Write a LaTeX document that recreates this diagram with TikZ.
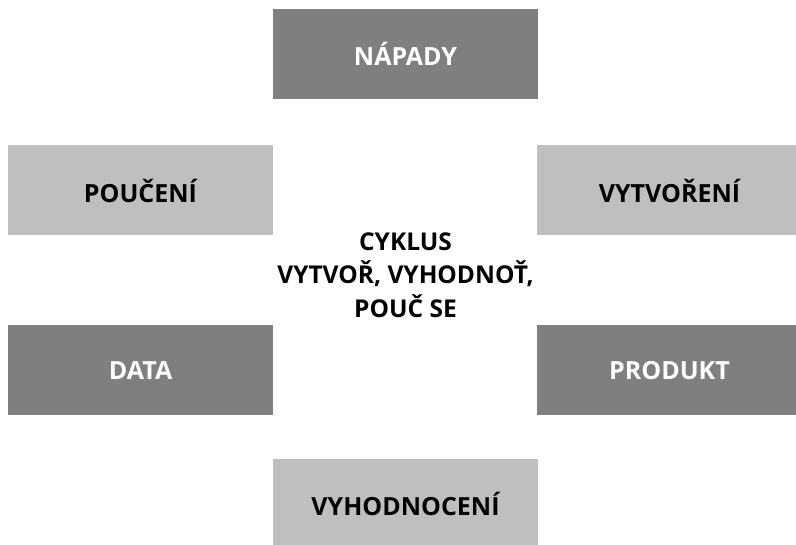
\documentclass[tikz,border=0pt]{standalone}
\usepackage{fontspec}
\setmainfont{Open Sans}
\definecolor{dark}{HTML}{7F7F7F}
\definecolor{light}{HTML}{BFBFBF}

\tikzset{
  box/.style={minimum width=265pt, minimum height=90pt, inner sep=0pt,
    font=\bfseries\fontsize{25}{30}\selectfont},
  darkbox/.style={box, fill=dark, text=white},
  lightbox/.style={box, fill=light, text=black}
}

\begin{document}
\begin{tikzpicture}[x=1pt,y=-1pt]
\useasboundingbox (0,0) rectangle (796,545);
\node[darkbox] (napady) at (405.5,54) {NÁPADY};
\node[lightbox] (pouceni) at (140.5,190.5) {POUČENÍ};
\node[lightbox] (vytvoreni) at (669.5,190.5) {VYTVOŘENÍ};
\node[darkbox] (data) at (140.5,370.5) {DATA};
\node[darkbox] (produkt) at (669.5,370.5) {PRODUKT};
\node[lightbox] (vyhodnoceni) at (405.5,504) {VYHODNOCENÍ};
% text in the middle of the ring
\node[align=center, font=\bfseries\fontsize{24.5}{33.5}\selectfont] (cyklus) at (405.5,275)
  {CYKLUS\\VYTVOŘ, VYHODNOŤ,\\POUČ SE};
\end{tikzpicture}
\end{document}
